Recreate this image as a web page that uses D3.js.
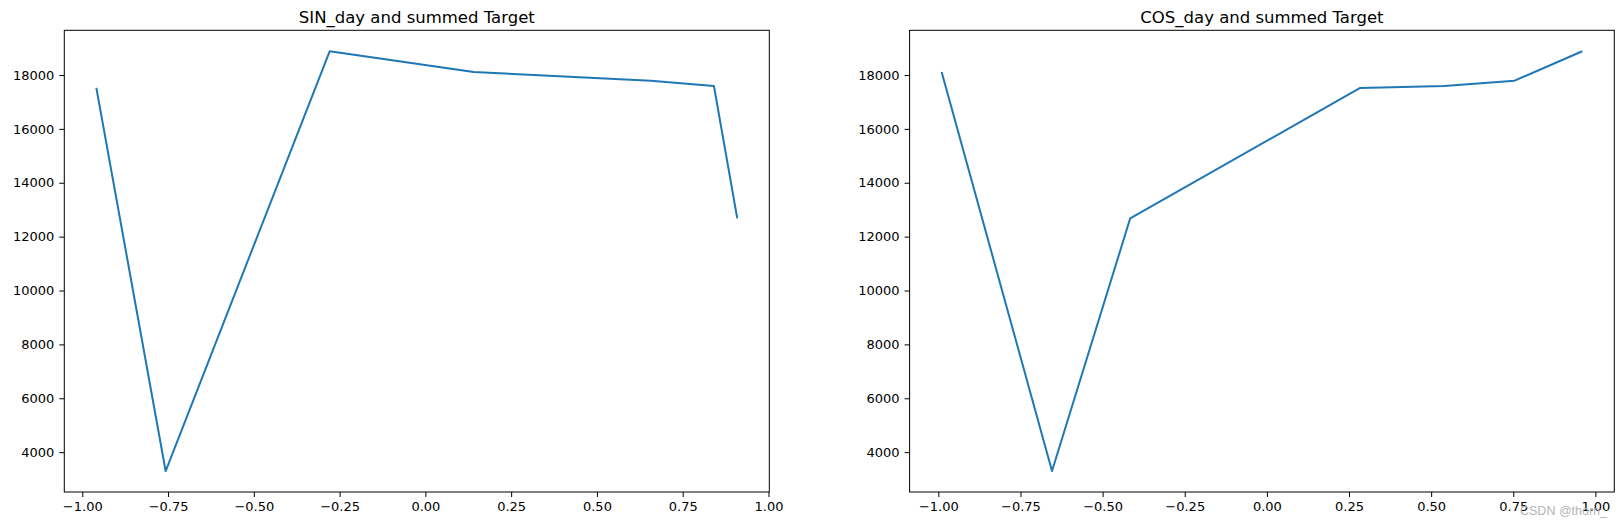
<!DOCTYPE html>
<meta charset="utf-8">
<style>
body { margin: 0; background: #fff; }
</style>
<body>
<script src="https://cdn.jsdelivr.net/npm/d3@7"></script>
<script>
// values (x = sin/cos of day, y = summed Target)
var sinDay = [-0.959, -0.757, -0.279, 0.141, 0.657, 0.841, 0.909];
var sinTarget = [17520, 3300, 18880, 18110, 17790, 17590, 12680];
var cosDay = [-0.990, -0.654, -0.416, 0.284, 0.540, 0.754, 0.960];
var cosTarget = [18110, 3300, 12680, 17520, 17590, 17790, 18880];
var xTicks = [-1.00, -0.75, -0.50, -0.25, 0.00, 0.25, 0.50, 0.75, 1.00];
var yTicks = [4000, 6000, 8000, 10000, 12000, 14000, 16000, 18000];

var W = 1624, H = 526;
var font = "'DejaVu Sans', sans-serif";
var svg = d3.select("body").append("svg")
    .attr("width", W)
    .attr("height", H);

function panel(left, right, xs, ys, title) {
  var top = 30.3, bottom = 492;
  // matplotlib style 5% margins
  var xe = d3.extent(xs), ye = d3.extent(ys);
  var xp = (xe[1] - xe[0]) * 0.05, yp = (ye[1] - ye[0]) * 0.05;
  var x = d3.scaleLinear().domain([xe[0] - xp, xe[1] + xp]).range([left, right]);
  var y = d3.scaleLinear().domain([ye[0] - yp, ye[1] + yp]).range([bottom, top]);

  var g = svg.append("g");

  g.append("g")
      .attr("transform", "translate(0," + bottom + ")")
      .call(d3.axisBottom(x).tickValues(xTicks).tickSize(5).tickPadding(5)
        .tickFormat(function(d) { return d3.format(".2f")(d).replace("-", "\u2212"); }))
      .attr("font-family", font).attr("font-size", 13)
      .call(function(a) { a.select(".domain").remove(); });

  g.append("g")
      .attr("transform", "translate(" + left + ",0)")
      .call(d3.axisLeft(y).tickValues(yTicks).tickFormat(d3.format("d")).tickSize(5).tickPadding(5))
      .attr("font-family", font).attr("font-size", 13)
      .call(function(a) { a.select(".domain").remove(); });

  g.selectAll(".tick line").attr("stroke", "#000").attr("stroke-width", 1);
  g.selectAll(".tick text").attr("fill", "#000");

  var line = d3.line()
      .x(function(d, i) { return x(xs[i]); })
      .y(function(d) { return y(d); });

  g.append("path")
      .datum(ys)
      .attr("fill", "none")
      .attr("stroke", "#1f77b4")
      .attr("stroke-width", 2)
      .attr("stroke-linejoin", "round")
      .attr("d", line);

  g.append("rect")
      .attr("x", left).attr("y", top)
      .attr("width", right - left).attr("height", bottom - top)
      .attr("fill", "none").attr("stroke", "#000").attr("stroke-width", 1);

  g.append("text")
      .attr("x", (left + right) / 2)
      .attr("y", 22.5)
      .attr("text-anchor", "middle")
      .attr("font-family", font)
      .attr("font-size", 16.5)
      .text(title);
}

panel(64.3, 769.3, sinDay, sinTarget, "SIN_day and summed Target");
panel(909.6, 1614.3, cosDay, cosTarget, "COS_day and summed Target");

// watermark
svg.append("text")
    .attr("x", 1520)
    .attr("y", 515)
    .attr("font-family", "'Liberation Sans', sans-serif")
    .attr("font-size", 12.5)
    .attr("fill", "#b5b5b5")
    .text("CSDN @thorn_");
</script>
</body>
